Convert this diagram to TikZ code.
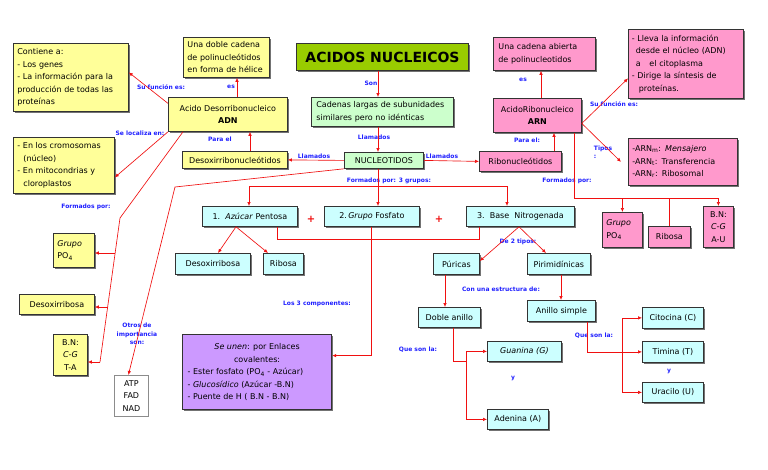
\documentclass[tikz,border=0pt]{standalone}
\usepackage{fontspec}
\setmainfont{DejaVu Sans}
\usetikzlibrary{arrows.meta,shadows}
\definecolor{yfill}{HTML}{FFFF99}
\definecolor{gfill}{HTML}{CCFFCC}
\definecolor{pfill}{HTML}{FF99CC}
\definecolor{cfill}{HTML}{CCFFFF}
\definecolor{vfill}{HTML}{CC99FF}
\definecolor{tfill}{HTML}{99CC00}
\definecolor{labc}{HTML}{2020FF}
\definecolor{lnk}{HTML}{F01010}
\newcommand{\fsz}{\fontsize{8}{12.5}\selectfont}
\begin{document}
\begin{tikzpicture}[x=1pt,y=-1pt,
  boxbase/.style={draw=black!80, line width=0.8pt, anchor=north west, inner xsep=4pt, inner ysep=0pt, font=\fsz, text=black,
    drop shadow={shadow xshift=1.2pt, shadow yshift=-1.2pt, fill=black!55, opacity=1}},
  ybox/.style={boxbase, fill=yfill},
  gbox/.style={boxbase, fill=gfill},
  pbox/.style={boxbase, fill=pfill},
  cbox/.style={boxbase, fill=cfill},
  vbox/.style={boxbase, fill=vfill},
  wbox/.style={draw=black!45, line width=0.8pt, anchor=north west, inner sep=0pt, font=\fsz, fill=white},
  lbl/.style={text=labc, font=\fontsize{6}{8.5}\selectfont\bfseries, inner sep=0.5pt},
  conn/.style={draw=lnk, line width=0.65pt},
  arr/.style={conn, -{Latex[length=4pt,width=3.5pt]}}
]
\useasboundingbox (0,0) rectangle (768,469);
\fill[white] (0,0) rectangle (768,469);

% ---------- nodes ----------
\node[boxbase, fill=tfill, line width=1pt, minimum width=172, minimum height=27, font=\fontsize{14}{16}\selectfont\bfseries] (title) at (296,43) {ACIDOS NUCLEICOS};

\node[ybox, minimum width=115, minimum height=68, text width=107, align=left] (contiene) at (13,43)
  {Contiene a:\\- Los genes\\- La información para la\\producción de todas las\\proteínas};
\node[ybox, minimum width=86, minimum height=40, text width=78, align=left] (doble) at (183,37)
  {Una doble cadena\\de polinucleótidos\\en forma de hélice};
\node[ybox, minimum width=119, minimum height=34, align=center] (adn) at (168,97)
  {Acido Desorribonucleico\\\textbf{ADN}};
\node[ybox, minimum width=105, minimum height=17] (desoxi) at (182,151) {Desoxirribonucleótidos};
\node[ybox, minimum width=101, minimum height=56, text width=93, align=left] (cromo) at (13,137)
  {- En los cromosomas\\\hspace*{6pt}(núcleo)\\- En mitocondrias y\\\hspace*{6pt}cloroplastos};
\node[ybox, minimum width=41, minimum height=34, text width=33, align=left] (ygrupo) at (53,233)
  {\textit{Grupo}\\PO\textsubscript{4}};
\node[ybox, minimum width=75, minimum height=20] (ydesoxi) at (19,294) {Desoxirribosa};
\node[ybox, minimum width=34, minimum height=41, align=center, inner xsep=0pt] (ybn) at (53,334)
  {B.N:\\\textit{C-G}\\T-A};
\node[wbox, minimum width=34, minimum height=41, align=center] (atp) at (114,375)
  {ATP\\FAD\\NAD};

\node[gbox, minimum width=142, minimum height=29, text width=132, align=left, inner xsep=5pt] (cadenas) at (311,97)
  {Cadenas largas de subunidades\\similares pero no idénticas};
\node[gbox, minimum width=79, minimum height=16] (nucleo) at (344,152) {NUCLEOTIDOS};

\node[pbox, minimum width=102, minimum height=33, text width=92, align=left, inner xsep=5pt] (abierta) at (493,37)
  {Una cadena abierta\\de polinucleotidos};
\node[pbox, minimum width=88, minimum height=34, align=center] (arn) at (493,98)
  {AcidoRibonucleico\\\textbf{ARN}};
\node[pbox, minimum width=82, minimum height=20] (ribo) at (479,151) {Ribonucleótidos};
\node[pbox, minimum width=115, minimum height=69, text width=108, align=left, inner xsep=3.5pt] (lleva) at (628,29)
  {- Lleva la información\\\hspace*{4pt}desde el núcleo (ADN)\\\hspace*{4pt}a\hspace{6pt} el citoplasma\\- Dirige la síntesis de\\\hspace*{7pt}proteínas.};
\node[pbox, minimum width=109, minimum height=47, text width=101, align=left] (tipos) at (628,138)
  {-ARN\textsubscript{m}: \textit{Mensajero}\\-ARN\textsubscript{t}: Transferencia\\-ARN\textsubscript{r}: Ribosomal};
\node[pbox, minimum width=40, minimum height=35, text width=32, align=left] (pgrupo) at (602,212)
  {\textit{Grupo}\\PO\textsubscript{4}};
\node[pbox, minimum width=42, minimum height=21, inner xsep=0pt] (pribosa) at (648,226) {Ribosa};
\node[pbox, minimum width=30, minimum height=41, align=center, inner xsep=0pt] (pbn) at (703,206)
  {B.N:\\\textit{C-G}\\A-U};

\node[cbox, minimum width=95, minimum height=20] (azucar) at (202,206) {1.\ \ \textit{Azúcar} Pentosa};
\node[cbox, minimum width=95, minimum height=20] (fosfato) at (324,206) {2.\,\textit{Grupo} Fosfato};
\node[cbox, minimum width=108, minimum height=20] (base) at (466,206) {3.\ \ Base\ \ Nitrogenada};
\node[cbox, minimum width=75, minimum height=21] (cdesoxi) at (175,253) {Desoxirribosa};
\node[cbox, minimum width=40, minimum height=21, inner xsep=0pt] (cribosa) at (263,253) {Ribosa};
\node[cbox, minimum width=46, minimum height=21] (puricas) at (433,253) {Púricas};
\node[cbox, minimum width=63, minimum height=21, inner xsep=2pt] (pirim) at (527,253) {Pirimidínicas};
\node[cbox, minimum width=62, minimum height=20] (dan) at (418,307) {Doble anillo};
\node[cbox, minimum width=68, minimum height=21] (simple) at (527,300) {Anillo simple};
\node[cbox, minimum width=74, minimum height=20] (guanina) at (487,341) {\textit{Guanina (G)}};
\node[cbox, minimum width=61, minimum height=20] (adenina) at (487,409) {Adenina (A)};
\node[cbox, minimum width=61, minimum height=21] (citocina) at (642,307) {Citocina (C)};
\node[cbox, minimum width=61, minimum height=21] (timina) at (642,341) {Timina (T)};
\node[cbox, minimum width=61, minimum height=20] (uracilo) at (642,382) {Uracilo (U)};

\node[vbox, minimum width=149, minimum height=75, align=center, line width=1.2pt] (unen) at (182,334)
  {\textit{Se unen}: por Enlaces\\covalentes:\\
   \makebox[139pt][l]{- Ester fosfato (PO\textsubscript{4} - Azúcar)}\\
   \makebox[139pt][l]{- \textit{Glucosídico} (Azúcar -B.N)}\\
   \makebox[139pt][l]{- Puente de H ( B.N - B.N)}};

% ---------- labels ----------
\node[lbl] (l1) at (161,87) {Su función es:};
\node[lbl] (l2) at (231,87) {es};
\node[lbl] (l3) at (140,133) {Se localiza en:};
\node[lbl] (l4) at (220,139) {Para el};
\node[lbl] (l5) at (371,83) {Son};
\node[lbl] (l6) at (374,137) {Llamados};
\node[lbl] (l7) at (314,156) {Llamados};
\node[lbl] (l8) at (442,156) {Llamados};
\node[lbl] (l9) at (389,181) {Formados por: 3 grupos:};
\node[lbl] (l10) at (523,80) {es};
\node[lbl] (l11) at (614,104) {Su función es:};
\node[lbl] (l12) at (527,140) {Para el:};
\node[lbl, align=left] (l13) at (603,152) {Tipos\\:};
\node[lbl] (l14) at (567,181) {Formados por:};
\node[lbl] (l15) at (86,207) {Formados por:};
\node[lbl, align=center] (l16) at (137,334) {Otros de\\importancia\\son:};
\node[lbl] (l17) at (317,304) {Los 3 componentes:};
\node[lbl] (l18) at (518,242) {De 2 tipos:};
\node[lbl] (l19) at (501,289) {Con una estructura de:};
\node[lbl] (l20) at (418,350) {Que son la:};
\node[lbl] (l21) at (513,378) {y};
\node[lbl] (l22) at (594,336) {Que son la:};
\node[lbl] (l23) at (669,371) {y};
\node[text=lnk, font=\fontsize{10}{10}\selectfont\bfseries, inner sep=0pt] (plus1) at (311,219) {+};
\node[text=lnk, font=\fontsize{10}{10}\selectfont\bfseries, inner sep=0pt] (plus2) at (439,219) {+};

% ---------- coordinates ----------
\coordinate (f1) at (120,218);
\coordinate (f2) at (100,362);
\coordinate (f3) at (115.1,253);
\coordinate (f4) at (107.6,307);
\coordinate (n1) at (175,187);
\coordinate (bar1) at (249,186);
\coordinate (bar2) at (507,186);
\coordinate (da1) at (466,361);
\coordinate (cu) at (622,351);
\coordinate (pf) at (574,198);
\coordinate (pf2) at (717,198);

% ---------- connectors ----------
\draw[arr] ([xshift=82]title.south west) -- ([xshift=67]cadenas.north west);
\draw[arr] ([xshift=67]cadenas.south west) -- ([xshift=34]nucleo.north west);
\draw[arr] (nucleo.west) -- (desoxi.east);
\draw[arr] (nucleo.east) -- (ribo.west);
\draw[arr] ([xshift=68]desoxi.north west) -- ([xshift=82]adn.south west);
\draw[arr] ([xshift=69]adn.north west) -- ([xshift=54]doble.south west);
\draw[arr] ([yshift=11]adn.west) -- ([yshift=5]contiene.east);
\draw[arr] (adn.south west) -- ([yshift=-12]cromo.east);
\draw[conn] ([xshift=15]adn.south west) -- (f1) -- (f2);
\draw[arr] (f3) -- (ygrupo.east |- f3);
\draw[arr] (f4) -- (ydesoxi.east |- f4);
\draw[arr] (f2) -- (ybn.east |- f2);
\draw[arr] (nucleo.south west) -- (n1) -- ([xshift=-3]atp.north);

\draw[arr] ([xshift=34]nucleo.south west) -- ([xshift=54]fosfato.north west);
\draw[conn] (bar1) -- (bar2);
\draw[arr] (bar1) -- ([xshift=47]azucar.north west);
\draw[arr] (bar2) -- ([xshift=41]base.north west);
\draw[conn] ([xshift=75]azucar.south west) |- ([xshift=13,yshift=-13]base.south west) -- ([xshift=13]base.south west);
\draw[arr] ([xshift=34]azucar.south west) -- ([xshift=43]cdesoxi.north west);
\draw[arr] ([xshift=34]azucar.south west) -- ([xshift=5]cribosa.north west);
\draw[arr] ([xshift=53]base.south west) -- ([yshift=-8]puricas.north east);
\draw[arr] ([xshift=53]base.south west) -- ([xshift=19]pirim.north west);
\draw[arr] ([xshift=47]fosfato.south west) |- ([yshift=16.5]unen.east);
\draw[arr] ([xshift=12]puricas.south west) -- ([xshift=27]dan.north west);
\draw[arr] ([xshift=34]pirim.south west) -- ([xshift=34]simple.north west);
\draw[conn] ([xshift=35]dan.south west) |- (da1);
\draw[arr] (da1) |- (guanina.west);
\draw[arr] (da1) |- (adenina.west);
\draw[arr] ([xshift=60]simple.south west) |- (timina.west);
\draw[arr] (cu) |- (citocina.west);
\draw[arr] (cu) |- (uracilo.west);

\draw[arr] ([xshift=75]ribo.north west) -- ([xshift=61]arn.south west);
\draw[arr] ([xshift=48]arn.north west) -- ([xshift=48]abierta.south west);
\draw[arr] ([yshift=-8]arn.east) -- ([yshift=-14.5]lleva.west);
\draw[arr] ([yshift=-8]arn.east) -- ([xshift=-7]tipos.west);
\draw[conn] ([xshift=81]arn.south west) -- (pf) -- (pf2);
\draw[arr] (pgrupo.north |- pf) -- (pgrupo.north);
\draw[conn] (pribosa.north |- pf) -- (pribosa.north);
\draw[arr] (pf2) -- (pbn.north |- pf2) -- (pbn.north);
\end{tikzpicture}
\end{document}
